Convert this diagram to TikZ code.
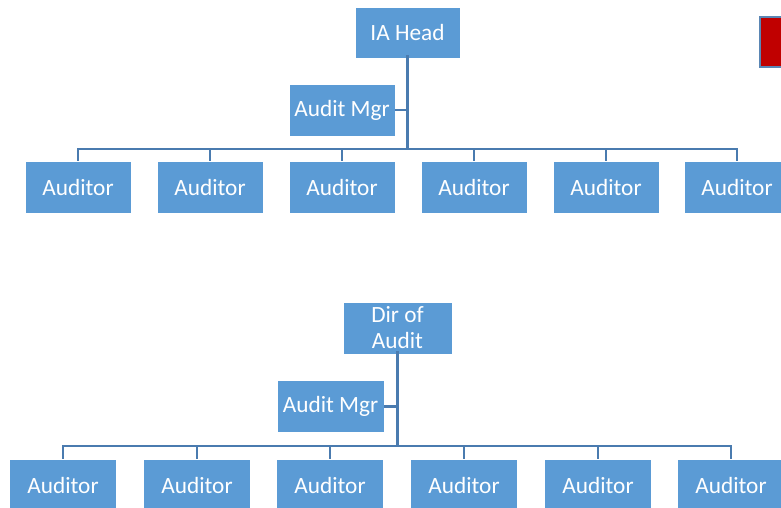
\documentclass[tikz,border=0pt]{standalone}
\usepackage{fontspec}
\setmainfont{Carlito}
\definecolor{boxblue}{HTML}{5B9BD5}
\definecolor{linkblue}{HTML}{4A7BAF}
\definecolor{redfill}{HTML}{C00000}
\definecolor{redborder}{HTML}{5A86B4}
\begin{document}
\begin{tikzpicture}[x=1pt,y=-1pt,
  orgbox/.style={draw=white, line width=0.6pt, fill=boxblue, text=white, inner sep=0pt,
     minimum width=106pt, minimum height=52pt, font=\fontsize{23.3}{26}\selectfont, align=center},
  link/.style={draw=linkblue, line width=2.2pt}]
\useasboundingbox (0,0) rectangle (781,508);
\clip (0,0) rectangle (781,508);
\fill[white] (0,0) rectangle (781,508);

% red box at the top right
\draw[draw=redborder, line width=2.5pt, fill=redfill] (760,17) rectangle (795,67);

% ---------- top chart ----------
\node[orgbox, minimum width=105pt, minimum height=51pt] (ia) at (407.5,32.5) {IA Head};
\node[orgbox] (mgr1) at (342,110) {Audit Mgr};
\foreach \i/\x in {1/78,2/210,3/342,4/474,5/606,6/737}{
  \node[orgbox] (a\i) at (\x,187) {Auditor};
}
\coordinate (bus1) at (408,149);
\draw[link, line width=2.6pt] ([yshift=3pt]ia.south) -- (ia.south |- bus1);
\draw[link] (mgr1.east) -- (mgr1.east -| ia.south);
\draw[link] (a1.north) -- ++(0,-12) -| (a6.north);
\foreach \i in {2,3,4,5}{ \draw[link] (a\i.north) -- (a\i.north |- bus1); }

% ---------- bottom chart ----------
\node[orgbox, minimum width=109pt] (dir) at (397.5,328) {Dir of\\Audit};
\node[orgbox, minimum width=107pt] (mgr2) at (330.5,406.5) {Audit Mgr};
\foreach \i/\x in {1/63,2/197,3/330,4/464,5/598,6/731}{
  \node[orgbox, minimum width=107pt] (b\i) at (\x,485) {Auditor};
}
\coordinate (bus2) at (397,446);
\draw[link, line width=2.6pt] ([yshift=3pt]dir.south) -- (dir.south |- bus2);
\draw[link] (mgr2.east) -- (mgr2.east -| dir.south);
\draw[link] (b1.north) -- ++(0,-13) -| (b6.north);
\foreach \i in {2,3,4,5}{ \draw[link] (b\i.north) -- (b\i.north |- bus2); }
\end{tikzpicture}
\end{document}
